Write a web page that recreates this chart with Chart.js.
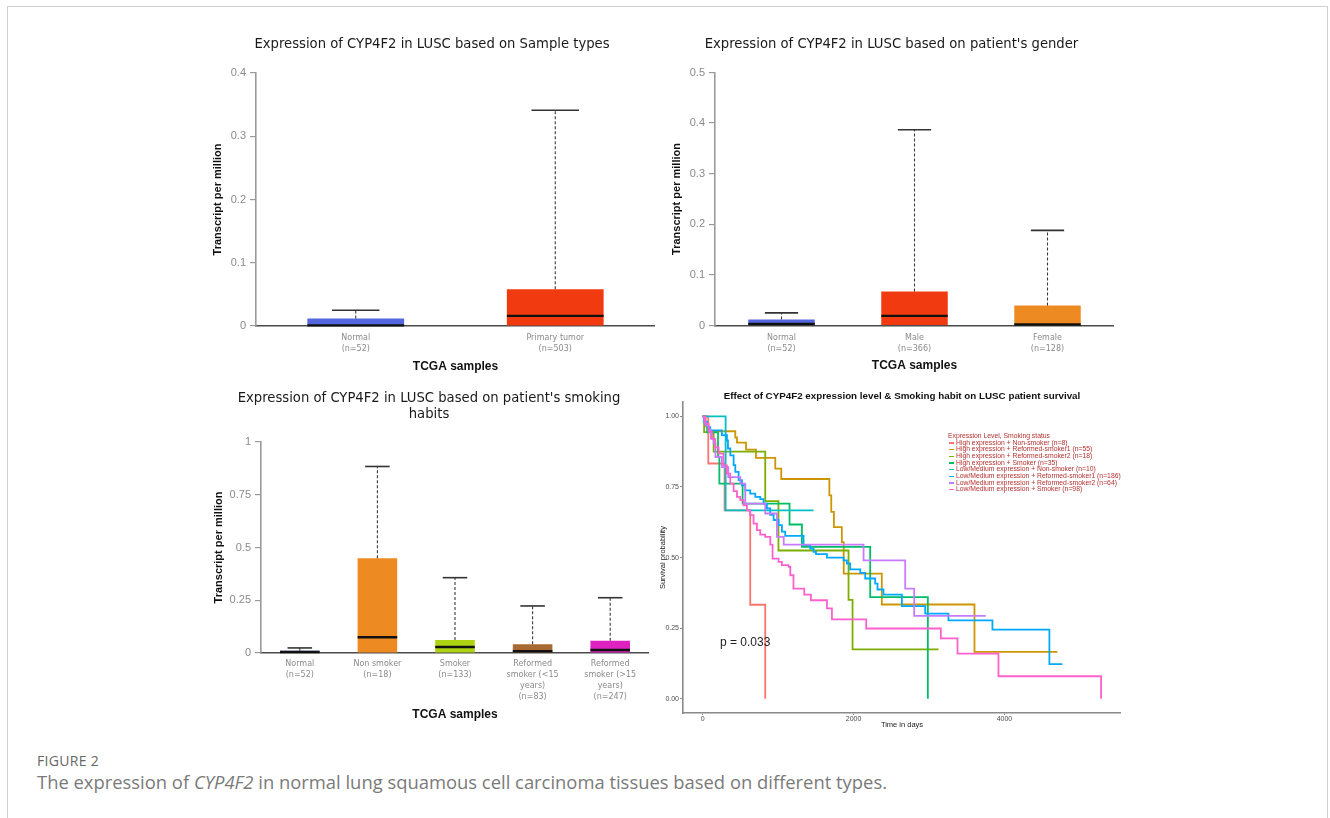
<!DOCTYPE html>
<html>
<head>
<meta charset="utf-8">
<title>CYP4F2 expression in LUSC</title>
<script src="https://cdn.jsdelivr.net/npm/chart.js@4.4.1/dist/chart.umd.min.js"></script>
<style>
  html, body { margin: 0; padding: 0; background: #fff; }
  body { width: 1330px; height: 818px; position: relative; overflow: hidden; font-family: "Open Sans", sans-serif; }
  .frame { position: absolute; left: 7px; top: 6px; width: 1319px; height: 840px; border: 1px solid #d0d0d0; }
  .panel { position: absolute; }
  .panel canvas { display: block; }
  #km-legend { position: absolute; left: 948px; top: 433px; font-family: "Liberation Sans", Arial, sans-serif; font-size: 6.8px; line-height: 6.67px; color: #b3302e; white-space: nowrap; }
  #km-legend .lg-key { display: inline-block; width: 5px; height: 1.4px; vertical-align: middle; margin: 0 2px 0 1px; }
  #km-pvalue { position: absolute; left: 720px; top: 635px; font-family: "Liberation Sans", Arial, sans-serif; font-size: 12px; color: #222; }
  .fig-label { position: absolute; left: 37px; top: 751px; font-size: 14px; color: #666; letter-spacing: 0.3px; }
  .fig-caption { position: absolute; left: 37px; top: 769px; font-size: 18.4px; color: #7a7a7a; }
</style>
</head>
<body>
<div class="frame"></div>

<div class="panel" style="left:209px;top:30px;width:446px;height:350px"><canvas id="chartSample"></canvas></div>
<div class="panel" style="left:669px;top:30px;width:445px;height:350px"><canvas id="chartGender"></canvas></div>
<div class="panel" style="left:209px;top:385px;width:440px;height:343px"><canvas id="chartSmoking"></canvas></div>
<div class="panel" style="left:655px;top:385px;width:466px;height:345px"><canvas id="chartSurvival"></canvas></div>
<div id="km-legend"></div>
<div id="km-pvalue"></div>

<div class="fig-label">FIGURE 2</div>
<div class="fig-caption">The expression of <i>CYP4F2</i> in normal lung squamous cell carcinoma tissues based on different types.</div>

<script>
// ── Box plot data (TPM) ───────────────────────────────────────────────────────

const sampleCats = ["Normal", "Primary tumor"];
const sampleN = [52, 503];
const sampleQ1 = [0, 0];
const sampleQ3 = [0.012, 0.058];
const sampleMedian = [0.001, 0.016];
const sampleUpper = [0.025, 0.341];
const sampleColors = ["#5467df", "#f23a10"];

const genderCats = ["Normal", "Male", "Female"];
const genderN = [52, 366, 128];
const genderQ1 = [0, 0, 0];
const genderQ3 = [0.012, 0.067, 0.0395];
const genderMedian = [0.003, 0.019, 0.002];
const genderUpper = [0.025, 0.387, 0.188];
const genderColors = ["#5467df", "#f23a10", "#ee8a22"];

const smokingCats = ["Normal", "Non smoker", "Smoker", "Reformed smoker (<15 years)", "Reformed smoker (>15 years)"];
const smokingN = [52, 18, 133, 83, 247];
const smokingQ1 = [0, 0, 0, 0, 0];
const smokingQ3 = [0.011, 0.449, 0.062, 0.041, 0.058];
const smokingMedian = [0.005, 0.0745, 0.0285, 0.008, 0.014];
const smokingUpper = [0.024, 0.884, 0.357, 0.223, 0.262];
const smokingColors = ["#5467df", "#ee8a22", "#aed312", "#a86a32", "#dd22c0"];

// ── Kaplan-Meier data: [day, survival probability] ────────────────────────────

const kmHighNonSmoker = [[0, 1], [75, 0.833], [291, 0.667], [631, 0.333], [830, 0]];
const kmHighReformed1 = [[0, 1], [40, 0.964], [70, 0.947], [433, 0.925], [455, 0.907], [575, 0.882], [707, 0.853], [963, 0.815], [1042, 0.778], [1680, 0.72], [1705, 0.662], [1740, 0.608], [1845, 0.555], [1870, 0.443], [2375, 0.334], [3603, 0.166], [4702, 0.166]];
const kmHighReformed2 = [[0, 1], [20, 0.944], [146, 0.875], [830, 0.70], [1005, 0.525], [1934, 0.35], [1987, 0.175], [3126, 0.175]];
const kmHighSmoker = [[0, 1], [30, 0.971], [60, 0.943], [204, 0.857], [222, 0.762], [530, 0.691], [1152, 0.617], [1316, 0.538], [2221, 0.36], [2985, 0]];
const kmLowNonSmoker = [[0, 1], [305, 0.667], [1470, 0.667]];
const kmLowReformed1 = [[0, 1], [15, 0.98], [60, 0.962], [100, 0.95], [256, 0.933], [322, 0.915], [336, 0.886], [367, 0.862], [411, 0.827], [433, 0.803], [477, 0.774], [521, 0.756], [565, 0.738], [631, 0.726], [698, 0.715], [764, 0.707], [808, 0.691], [852, 0.674], [896, 0.651], [941, 0.633], [1007, 0.615], [1051, 0.592], [1095, 0.577], [1338, 0.544], [1426, 0.532], [1470, 0.52], [1502, 0.512], [1648, 0.50], [1868, 0.49], [1912, 0.479], [1956, 0.458], [2089, 0.446], [2155, 0.426], [2287, 0.408], [2318, 0.387], [2397, 0.369], [2641, 0.328], [2950, 0.302], [3258, 0.278], [3841, 0.245], [4596, 0.123], [4768, 0.123]];
const kmLowReformed2 = [[0, 1], [20, 0.984], [40, 0.968], [80, 0.952], [110, 0.921], [146, 0.903], [170, 0.856], [255, 0.82], [340, 0.785], [500, 0.762], [565, 0.691], [830, 0.656], [985, 0.573], [1075, 0.546], [2133, 0.49], [2685, 0.39], [2804, 0.294], [3753, 0.294]];
const kmLowSmoker = [[0, 1], [35, 0.974], [79, 0.945], [124, 0.92], [168, 0.89], [212, 0.868], [278, 0.826], [322, 0.797], [366, 0.762], [411, 0.735], [455, 0.715], [499, 0.703], [543, 0.685], [587, 0.667], [631, 0.65], [675, 0.62], [720, 0.597], [764, 0.581], [830, 0.573], [897, 0.546], [927, 0.496], [1007, 0.485], [1051, 0.473], [1140, 0.467], [1162, 0.4375], [1204, 0.39], [1347, 0.369], [1435, 0.349], [1648, 0.32], [1714, 0.281], [2168, 0.249], [3157, 0.214], [3378, 0.16], [3921, 0.08], [5281, 0]];

const kmGroups = [kmHighNonSmoker, kmHighReformed1, kmHighReformed2, kmHighSmoker, kmLowNonSmoker, kmLowReformed1, kmLowReformed2, kmLowSmoker];
const kmLabels = [
  "High expression + Non-smoker (n=8)",
  "High expression + Reformed-smoker1 (n=55)",
  "High expression + Reformed-smoker2 (n=18)",
  "High expression + Smoker (n=35)",
  "Low/Medium expression + Non-smoker (n=10)",
  "Low/Medium expression + Reformed-smoker1 (n=186)",
  "Low/Medium expression + Reformed-smoker2 (n=64)",
  "Low/Medium expression + Smoker (n=98)"
];
const kmColors = ["#f8766d", "#cd9600", "#7cae00", "#00be67", "#00bfc4", "#00a9ff", "#c77cff", "#ff61cc"];
const kmXTicks = [0, 2000, 4000];
const kmYTicks = [0, 0.25, 0.5, 0.75, 1];
const kmPValue = "p = 0.033";

// ── Helpers ───────────────────────────────────────────────────────────────────

function wrapLabel(text, maxChars) {
  const lines = [];
  let line = "";
  text.split(" ").forEach((w) => {
    if (line && (line + " " + w).length > maxChars) {
      lines.push(line);
      line = w;
    } else {
      line = line ? line + " " + w : w;
    }
  });
  if (line) lines.push(line);
  return lines;
}

// Box plot built from a floating bar (box), dashed line (whisker) and
// line-style points (median + whisker cap).
function renderBoxChart(canvasId, o) {
  const whiskers = [];
  o.cats.forEach((c, i) => {
    whiskers.push({ x: c, y: o.q3[i] }, { x: c, y: o.upper[i] }, { x: c, y: null });
  });
  const boxHalf = (ctx, frac) => (ctx.chart.scales.x.width / o.cats.length) * o.boxPct * frac / 2;

  return new Chart(document.getElementById(canvasId), {
    type: "bar",
    data: {
      labels: o.cats,
      datasets: [
        {
          type: "line", label: "Median", data: o.median, showLine: false,
          pointStyle: "line", pointRadius: (ctx) => boxHalf(ctx, 1),
          pointBorderColor: "#111", pointBorderWidth: 2.4, clip: false, order: 0
        },
        {
          type: "line", label: "Upper whisker", data: o.upper, showLine: false,
          pointStyle: "line", pointRadius: (ctx) => boxHalf(ctx, o.capFrac),
          pointBorderColor: "#333", pointBorderWidth: 1.6, clip: false, order: 1
        },
        {
          type: "line", label: "Whisker", data: whiskers, borderColor: "#3a3a3a",
          borderWidth: 1.1, borderDash: [3, 2], pointRadius: 0, spanGaps: false, order: 2
        },
        {
          type: "bar", label: "Box", data: o.q1.map((v, i) => [v, o.q3[i]]),
          backgroundColor: o.colors, barPercentage: o.boxPct, categoryPercentage: 1, order: 3
        }
      ]
    },
    options: {
      responsive: true,
      maintainAspectRatio: false,
      animation: false,
      events: [],
      layout: { padding: 0 },
      plugins: {
        legend: { display: false },
        tooltip: { enabled: false },
        title: {
          display: true, text: o.title, color: "#1a1a1a",
          font: { family: "DejaVu Sans", size: 13.2, weight: "normal", lineHeight: 1.212 },
          padding: { top: o.titleTop, bottom: o.titleBottom }
        }
      },
      scales: {
        x: {
          grid: { display: false, drawTicks: false },
          border: { display: true, color: "#4a4a4a", width: 1.5 },
          ticks: {
            autoSkip: false, maxRotation: 0, padding: o.xTickPad, color: "#8a8a8a",
            font: { family: "DejaVu Sans", size: 8, lineHeight: 1.375 },
            callback: (v, i) => [...wrapLabel(o.cats[i], o.wrap), `(n=${o.n[i]})`]
          },
          title: {
            display: true, text: "TCGA samples", color: "#111",
            font: { family: "Liberation Sans", size: 12, weight: "bold" },
            padding: { top: 0, bottom: o.xTitlePad }
          },
          afterFit: (s) => { s.height = o.xAxisHeight; }
        },
        y: {
          min: 0, max: o.yMax,
          ticks: {
            stepSize: o.yStep, padding: 4, color: "#8a8a8a",
            font: { family: "Liberation Sans", size: 11 },
            callback: (v) => String(+v.toFixed(4))
          },
          grid: { drawOnChartArea: false, drawTicks: true, tickLength: 6, color: "#9a9a9a", lineWidth: 1.2 },
          border: { display: true, color: "#9a9a9a", width: 1.6 },
          title: {
            display: true, text: "Transcript per million", color: "#111",
            font: { family: "Liberation Sans", size: 11, weight: "bold" },
            padding: { top: o.yTitlePad, bottom: 0 }
          },
          afterFit: (s) => { s.width = o.yAxisWidth; }
        }
      }
    }
  });
}

// ── Box plots ─────────────────────────────────────────────────────────────────

renderBoxChart("chartSample", {
  title: "Expression of CYP4F2 in LUSC based on Sample types",
  cats: sampleCats, n: sampleN, q1: sampleQ1, q3: sampleQ3, median: sampleMedian, upper: sampleUpper,
  colors: sampleColors, yMax: 0.4, yStep: 0.1, boxPct: 0.485, capFrac: 0.49, wrap: 20,
  titleTop: 7, titleBottom: 20, xTickPad: 6.5, xTitlePad: 5.8, xAxisHeight: 54,
  yAxisWidth: 47, yTitlePad: 2.4
});

renderBoxChart("chartGender", {
  title: "Expression of CYP4F2 in LUSC based on patient's gender",
  cats: genderCats, n: genderN, q1: genderQ1, q3: genderQ3, median: genderMedian, upper: genderUpper,
  colors: genderColors, yMax: 0.5, yStep: 0.1, boxPct: 0.5, capFrac: 0.5, wrap: 20,
  titleTop: 7, titleBottom: 19.5, xTickPad: 6.5, xTitlePad: 6.8, xAxisHeight: 54.5,
  yAxisWidth: 46, yTitlePad: 1.4
});

renderBoxChart("chartSmoking", {
  title: ["Expression of CYP4F2 in LUSC based on patient's smoking", "habits"],
  cats: smokingCats, n: smokingN, q1: smokingQ1, q3: smokingQ3, median: smokingMedian, upper: smokingUpper,
  colors: smokingColors, yMax: 1, yStep: 0.25, boxPct: 0.51, capFrac: 0.62, wrap: 11,
  titleTop: 6, titleBottom: 19, xTickPad: 5.8, xTitlePad: 5.8, xAxisHeight: 75,
  yAxisWidth: 52, yTitlePad: 3.4
});

// ── Kaplan-Meier survival ─────────────────────────────────────────────────────

new Chart(document.getElementById("chartSurvival"), {
  type: "line",
  data: {
    datasets: kmGroups.map((g, i) => ({
      label: kmLabels[i],
      data: g.map(([t, s]) => ({ x: t, y: s })),
      borderColor: kmColors[i],
      borderWidth: 1.8,
      stepped: true,
      pointRadius: 0,
      fill: false,
      order: kmGroups.length - i
    }))
  },
  options: {
    responsive: true,
    maintainAspectRatio: false,
    animation: false,
    events: [],
    layout: { padding: 0 },
    plugins: {
      legend: { display: false },
      tooltip: { enabled: false },
      title: {
        display: true, fullSize: false,
        text: "Effect of CYP4F2 expression level & Smoking habit on LUSC patient survival",
        color: "#111", font: { family: "Liberation Sans", size: 9.8, weight: "bold", lineHeight: 1.2 },
        padding: { top: 5.1, bottom: 0.3 }
      }
    },
    scales: {
      x: {
        type: "linear", min: -260, max: 5545,
        afterBuildTicks: (s) => { s.ticks = kmXTicks.map((v) => ({ value: v })); },
        grid: { drawOnChartArea: false, tickLength: 2, color: "#888" },
        border: { display: true, color: "#8a8a8a", width: 1.6 },
        ticks: { padding: 0, color: "#4d4d4d", font: { family: "Liberation Sans", size: 7 }, callback: (v) => String(v) },
        title: {
          display: true, text: "Time in days", color: "#222",
          font: { family: "Liberation Sans", size: 7.5 }, padding: { top: 0, bottom: 0.6 }
        },
        afterFit: (s) => { s.height = 17; }
      },
      y: {
        min: -0.05, max: 1.05,
        afterBuildTicks: (s) => { s.ticks = kmYTicks.map((v) => ({ value: v })); },
        grid: { drawOnChartArea: false, tickLength: 3, color: "#888" },
        border: { display: true, color: "#8a8a8a", width: 1.6 },
        ticks: { padding: 1, color: "#4d4d4d", font: { family: "Liberation Sans", size: 7 }, callback: (v) => v.toFixed(2) },
        title: {
          display: true, text: "Survival probability", color: "#222",
          font: { family: "Liberation Sans", size: 7.5 }, padding: { top: 3.5, bottom: 0 }
        },
        afterFit: (s) => { s.width = 28; }
      }
    }
  }
});

// Legend and p-value drawn as text over the plot area
document.getElementById("km-legend").innerHTML =
  "<div>Expression Level, Smoking status</div>" +
  kmLabels.map((l, i) => `<div><span class="lg-key" style="background:${kmColors[i]}"></span>${l}</div>`).join("");
document.getElementById("km-pvalue").textContent = kmPValue;
</script>
</body>
</html>
